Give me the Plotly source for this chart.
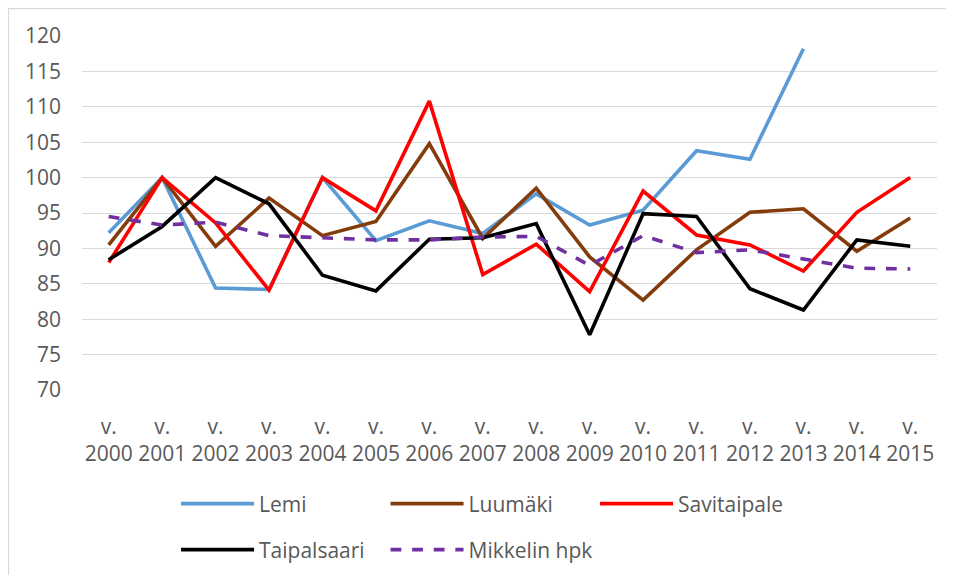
import plotly.graph_objects as go

years = ["2000", "2001", "2002", "2003", "2004", "2005", "2006", "2007",
         "2008", "2009", "2010", "2011", "2012", "2013", "2014", "2015"]

lemi = [92.2, 100, 84.4, 84.2, 100, 91.1, 93.9, 92.1,
        97.7, 93.3, 95.4, 103.8, 102.6, 118.2, None, None]
luumaki = [90.5, 100, 90.3, 97.1, 91.8, 93.8, 104.8, 91.4,
           98.5, 88.8, 82.7, 89.8, 95.1, 95.6, 89.6, 94.3]
savitaipale = [88.0, 100, 93.6, 84.1, 100, 95.3, 110.8, 86.3,
               90.6, 83.9, 98.1, 91.9, 90.5, 86.8, 95.1, 100]
taipalsaari = [88.4, 93.1, 100, 96.3, 86.2, 84.0, 91.3, 91.5,
               93.5, 77.8, 94.9, 94.5, 84.3, 81.3, 91.2, 90.3]
mikkeli = [94.5, 93.3, 93.7, 91.8, 91.5, 91.2, 91.2, 91.6,
           91.7, 87.6, 91.8, 89.4, 89.8, 88.5, 87.2, 87.1]

x_labels = ["v.<br>" + y for y in years]

FONT = "Open Sans, Liberation Sans, sans-serif"
GREY = "#595959"


def add_line(fig, y, name, color, dash="solid", legend="legend"):
    fig.add_trace(go.Scatter(
        x=x_labels,
        y=y,
        name=name,
        mode="lines",
        line=dict(color=color, width=3.6, dash=dash),
        legend=legend,
    ))


fig = go.Figure()
add_line(fig, lemi, "Lemi", "#5B9BD5")
add_line(fig, luumaki, "Luumäki", "#843C0C")
add_line(fig, savitaipale, "Savitaipale", "#FF0000")
add_line(fig, taipalsaari, "Taipalsaari", "#000000", legend="legend2")
add_line(fig, mikkeli, "Mikkelin hpk", "#7030A0", dash="dash", legend="legend2")

legend_style = dict(
    orientation="h",
    xanchor="left",
    yanchor="middle",
    font=dict(family=FONT, size=21, color=GREY),
    itemwidth=73,
    entrywidth=121.5,
    entrywidthmode="pixels",
    bgcolor="rgba(0,0,0,0)",
    traceorder="normal",
)

# the page body adds 8px around the figure, so the figure is 8px smaller
fig.update_layout(
    width=946,
    height=567,
    margin=dict(l=74, r=17, t=28, b=185, autoexpand=False),
    paper_bgcolor="white",
    plot_bgcolor="white",
    font=dict(family=FONT, size=21, color=GREY),
    legend=dict(x=0.110, y=-0.322, **legend_style),
    legend2=dict(x=0.110, y=-0.452, **legend_style),
    shapes=[
        dict(type="rect", xref="paper", yref="paper",
             x0=-0.086, x1=1.05, y0=-0.6, y1=1.0777,
             line=dict(color="#D9D9D9", width=1.3), layer="below"),
    ],
)

fig.update_xaxes(
    type="category",
    range=[-0.5, 15.5],
    automargin=False,
    tickangle=0,
    showgrid=False,
    showline=False,
    zeroline=False,
    ticklabelstandoff=22,
    tickfont=dict(family=FONT, size=21, color=GREY),
)

fig.update_yaxes(
    range=[70, 120],
    dtick=5,
    automargin=False,
    showgrid=True,
    gridcolor="#D9D9D9",
    gridwidth=1.3,
    zeroline=False,
    showline=False,
    ticklabelstandoff=20,
    tickfont=dict(family=FONT, size=21, color=GREY),
)

fig.write_html("out.html")
